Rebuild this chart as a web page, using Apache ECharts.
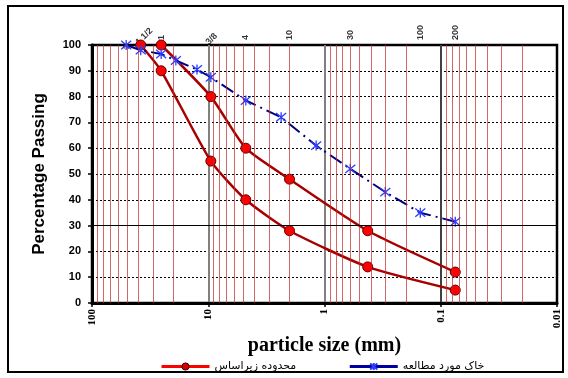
<!DOCTYPE html>
<html><head><meta charset="utf-8">
<script src="https://cdn.jsdelivr.net/npm/echarts@6/dist/echarts.min.js"></script>
<style>html,body{margin:0;padding:0;background:#fff}#chart{width:568px;height:378px}</style>
</head><body><div id="chart"></div>
<script>
// Grain size distribution: sieve opening (mm) vs percent passing
const soilSizes = [50.8, 38.1, 25.4, 19.0, 12.5, 9.5, 4.75, 2.36, 1.18, 0.6, 0.3, 0.15, 0.075];
const soilPassing = [100, 98, 96.5, 94, 90.5, 87.5, 78.5, 72, 61, 52, 43, 35, 31.5];
const upperSizes = [25.4, 9.5, 4.75, 2.0, 0.425, 0.075];
const upperPassing = [100, 80, 60, 48, 28, 12];
const lowerSizes = [38.1, 25.4, 9.5, 4.75, 2.0, 0.425, 0.075];
const lowerPassing = [100, 90, 55, 40, 28, 14, 5];
const sieveNames = ['2', '1 1/2', '1', '3/8', '4', '10', '30', '100', '200'];
const sieveSizes = [50.8, 38.1, 25.4, 9.5, 4.75, 2.0, 0.6, 0.15, 0.075];
const rangeName = 'محدوده زیراساس';
const soilName = 'خاک مورد مطالعه';

// minor log grid lines (2..9 within each decade)
const minorLines = [];
[0.01, 0.1, 1, 10].forEach(d => { for (let k = 2; k <= 9; k++) minorLines.push({ xAxis: +(d * k).toPrecision(3) }); });

const pair = (xs, ys) => xs.map((x, i) => [x, ys[i]]);
const starPath = 'path://M0 0L10 10M10 0L0 10M5 -1L5 11';

const chart = echarts.init(document.getElementById('chart'), null, { renderer: 'canvas' });
chart.setOption({
  animation: false,
  backgroundColor: '#fff',
  grid: { left: 92, right: 11, top: 45, bottom: 75, show: true, borderColor: '#000', borderWidth: 2.5, containLabel: false },
  graphic: [{ type: 'rect', shape: { x: 8, y: 6, width: 555, height: 366 }, style: { fill: 'none', stroke: '#000', lineWidth: 2 }, silent: true }],
  xAxis: {
    type: 'log', logBase: 10, min: 0.01, max: 100, inverse: true,
    name: 'particle size (mm)', nameLocation: 'middle', nameGap: 9,
    nameTextStyle: { fontFamily: 'Liberation Serif', fontWeight: 'bold', fontSize: 20, color: '#000' },
    axisLine: { onZero: false, lineStyle: { color: '#000', width: 3 } },
    axisTick: { show: true, length: 4, lineStyle: { color: '#000', width: 1.5 } },
    minorTick: { show: false },
    axisLabel: { rotate: 90, margin: 6, fontFamily: 'Liberation Serif', fontWeight: 'bold', fontSize: 11, color: '#000',
      formatter: v => String(v) },
    splitLine: { show: true, lineStyle: { color: ['#000', '#404040', '#808080', '#808080', '#000'], width: 2 } }
  },
  yAxis: {
    type: 'value', min: 0, max: 100, interval: 10,
    name: 'Percentage Passing', nameLocation: 'middle', nameGap: 44, nameRotate: 90,
    nameTextStyle: { fontFamily: 'Liberation Sans', fontWeight: 'bold', fontSize: 17, color: '#000' },
    axisLine: { show: true, lineStyle: { color: '#000', width: 3 } },
    axisTick: { show: true, length: 4, lineStyle: { color: '#000', width: 1.5 } },
    axisLabel: { margin: 11, fontFamily: 'Liberation Sans', fontWeight: 'bold', fontSize: 11, color: '#000' },
    splitLine: { show: true, lineStyle: { color: '#000', width: 1, type: [2, 2] } }
  },
  legend: {
    left: 155, top: 356, itemWidth: 48, itemHeight: 9, itemGap: 52,
    textStyle: { fontFamily: 'DejaVu Sans', fontSize: 11, color: '#000' },
    data: [
      { name: rangeName, lineStyle: { color: '#ff0000', width: 3 }, itemStyle: { color: '#d00000', borderColor: '#400000', borderWidth: 1 } },
      { name: soilName, lineStyle: { color: '#0000a0', width: 3, type: 'solid' } }
    ]
  },
  series: [
    {
      // sieve designations along the top edge, plus the plot's fine grid
      type: 'scatter', name: 'sieves', symbolSize: 0, clip: false, silent: true, z: 1,
      data: sieveSizes.map((s, i) => ({
        value: [s, 100], name: sieveNames[i],
        label: (sieveNames[i].indexOf('/') >= 0) ? { rotate: 45, offset: [-5, 0] } : (i === 0 ? { offset: [-9, 0] } : {})
      })),
      label: { show: true, position: 'top', distance: 5, rotate: 90, align: 'left', verticalAlign: 'middle',
        formatter: p => p.name, fontFamily: 'Liberation Sans', fontWeight: 'bold', fontSize: 9, color: '#000' },
      markLine: {
        silent: true, symbol: 'none', label: { show: false },
        lineStyle: { color: '#c02828', width: 1, type: 'solid', opacity: 0.7 },
        data: minorLines.concat([{ yAxis: 30, lineStyle: { color: '#000', width: 1, opacity: 1 } }])
      }
    },
    {
      type: 'line', name: rangeName, data: pair(upperSizes, upperPassing), smooth: 0.2, z: 3,
      symbol: 'circle', symbolSize: 10,
      lineStyle: { color: '#a80000', width: 2.5 },
      itemStyle: { color: '#ff0000', borderColor: '#600000', borderWidth: 1 }
    },
    {
      type: 'line', name: rangeName, data: pair(lowerSizes, lowerPassing), smooth: 0.2, z: 3,
      symbol: 'circle', symbolSize: 10,
      lineStyle: { color: '#a80000', width: 2.5 },
      itemStyle: { color: '#ff0000', borderColor: '#600000', borderWidth: 1 }
    },
    {
      type: 'line', name: soilName, data: pair(soilSizes, soilPassing), z: 4,
      symbol: starPath, symbolSize: 10,
      lineStyle: { color: '#000080', width: 2, type: [14, 5, 2, 5] },
      itemStyle: { color: 'rgba(0,0,0,0)', borderColor: '#2b3cff', borderWidth: 1.3 }
    }
  ]
});
</script></body></html>
